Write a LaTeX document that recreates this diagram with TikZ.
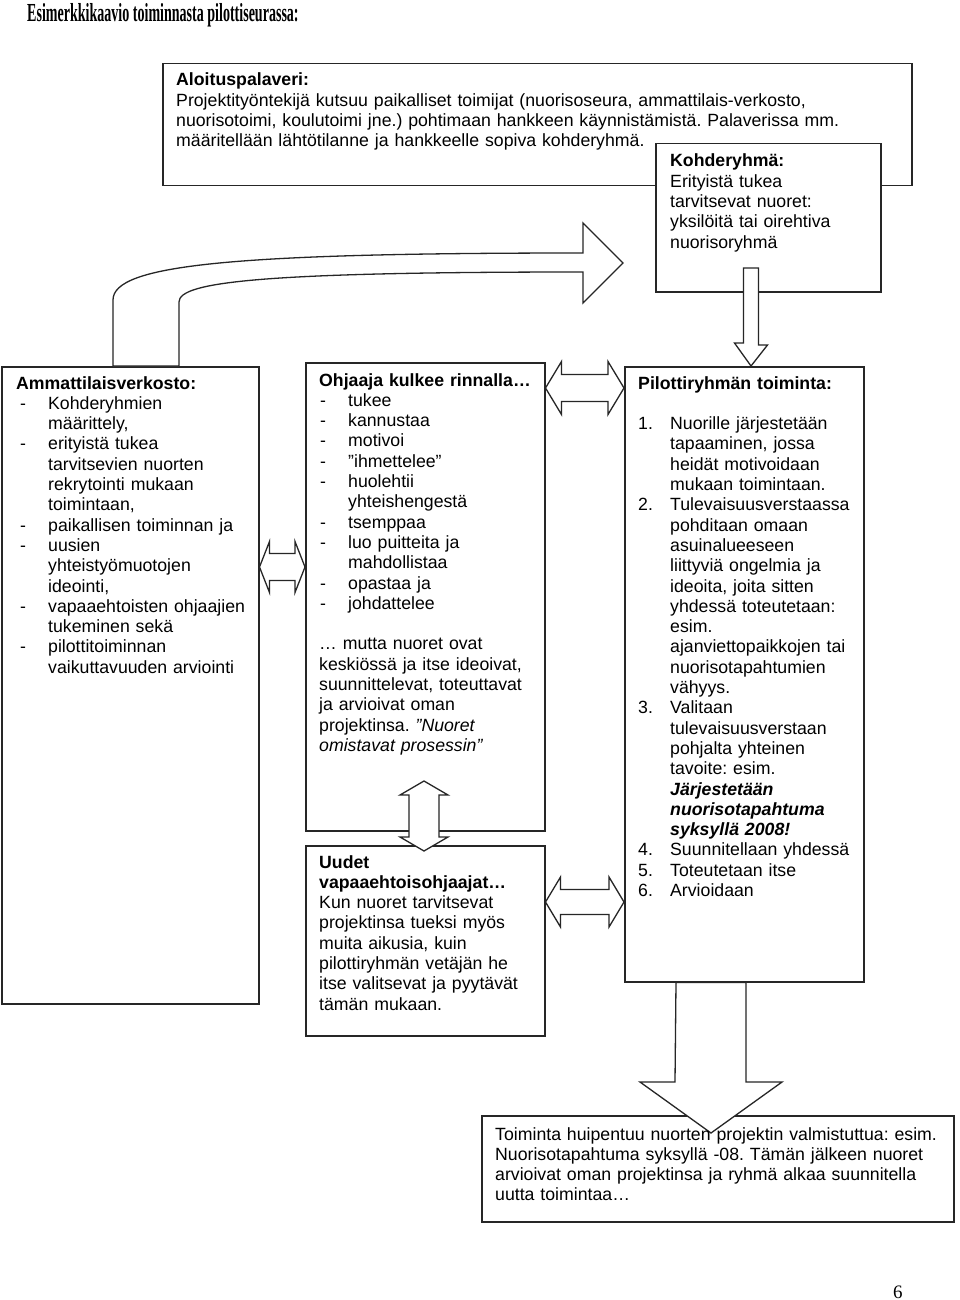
\documentclass[tikz,border=0pt]{standalone}
\usepackage{fontspec}
\usepackage{graphicx}
\usetikzlibrary{calc}
\newfontfamily\arialfont{Liberation Sans}
\newfontfamily\timesfont{Liberation Serif}
\newcommand\boxfont{\arialfont\fontsize{17.7}{20.3}\selectfont\frenchspacing}
\newcommand\dashln{\hspace*{4pt}\makebox[28pt][l]{-}}
\newcommand\contln{\hspace*{32pt}}
\newcommand\numln[1]{\makebox[32pt][l]{#1}}
\newcommand\dblh[5]{\draw[blockarrow] (#1) -- ++(#3,-#4) -- ++(0,#4-#5) -- ($(#2)+(-#3,-#5)$) -- ++(0,#5-#4) -- (#2) -- ++(-#3,#4) -- ++(0,#5-#4) -- ($(#1)+(#3,#5)$) -- ++(0,#4-#5) -- cycle;}
\newcommand\dblv[5]{\draw[blockarrow] (#1) -- ++(#4,#3) -- ++(#5-#4,0) -- ($(#2)+(#5,-#3)$) -- ++(#4-#5,0) -- (#2) -- ++(-#4,-#3) -- ++(#4-#5,0) -- ($(#1)+(-#5,#3)$) -- ++(#5-#4,0) -- cycle;}
\tikzset{
  box/.style={draw=black!85, line width=1.5pt, fill=white, anchor=north west, inner sep=0pt},
  txt/.style={anchor=base west, align=left, inner sep=0pt, text width=900pt, font=\boxfont},
  blockarrow/.style={draw=black!85, line width=1.3pt, fill=white, line join=miter},
}
\begin{document}
\begin{tikzpicture}[x=1pt,y=-1pt]
  \useasboundingbox[fill=white] (0,0) rectangle (960,1300);

  \node[anchor=base west, inner sep=0pt, font=\timesfont\fontsize{26}{30}\selectfont\bfseries] (otsikko) at (27,22) {\scalebox{0.54}[1]{Esimerkkikaavio toiminnasta pilottiseurassa:}};

  \node[box, minimum width=749pt, minimum height=122pt] (aloitus) at (162,63) {};
  \node[box, minimum width=225pt, minimum height=148pt] (kohde) at (655,143) {};
  \node[box, minimum width=257pt, minimum height=637pt] (ammatti) at (1,366) {};
  \node[box, minimum width=239pt, minimum height=468pt] (ohjaaja) at (305,362) {};
  \node[box, minimum width=239pt, minimum height=190pt] (uudet) at (305,845) {};
  \node[box, minimum width=239pt, minimum height=615pt] (pilotti) at (624,366) {};
  \node[box, minimum width=472pt, minimum height=106pt] (toiminta) at (481,1115) {};

  \coordinate (kaarikarki) at (623,263);
  \draw[blockarrow] (ammatti.north -| 113,0) -- (113,300) .. controls (113,265) and (230,253) .. (583,253) -- (583,223) -- (kaarikarki) -- (583,303) -- (583,272) .. controls (260,272) and (179,282) .. (179,302) -- (ammatti.north -| 179,0) -- cycle;

  \coordinate (ylakarki) at (pilotti.north -| 751,0);
  \draw[blockarrow] (ylakarki) -- ++(-16.5,-23) -- ++(9,0) -- (743.5,268) -- (758.5,268) -- (758.5,345) -- (767.5,345) -- cycle;

  \coordinate (alakarki) at (711,1133);
  \draw[blockarrow] (alakarki) -- ++(-71,-51) -- ++(35,0) -- (pilotti.south -| 676,0) -- (pilotti.south -| 746,0) -- (746,1082) -- (782,1082) -- cycle;

  \coordinate (a1) at (ammatti.east |- 0,567);
  \coordinate (o1) at (ohjaaja.west |- 0,567);
  \dblh{a1}{o1}{10}{25.5}{13.5}
  \coordinate (o2) at (ohjaaja.east |- 0,388);
  \coordinate (p2) at (pilotti.west |- 0,388);
  \dblh{o2}{p2}{16}{26.5}{13.5}
  \coordinate (u3) at (uudet.east |- 0,902);
  \coordinate (p3) at (pilotti.west |- 0,902);
  \dblh{u3}{p3}{15}{25}{12.5}
  \coordinate (o4) at (424,781);
  \coordinate (u4) at (424,851);
  \dblv{o4}{u4}{14}{24}{15}

  \node[txt] (aloitus-t) at (176,86) {\textbf{Aloituspalaveri:}\\
    Projektityöntekijä kutsuu paikalliset toimijat (nuorisoseura, ammattilais-verkosto,\\
    nuorisotoimi, koulutoimi jne.) pohtimaan hankkeen käynnistämistä. Palaverissa mm.\\
    määritellään lähtötilanne ja hankkeelle sopiva kohderyhmä.};
  \node[txt] (kohde-t) at (670,167) {\textbf{Kohderyhmä:}\\
    Erityistä tukea\\
    tarvitsevat nuoret:\\
    yksilöitä tai oirehtiva\\
    nuorisoryhmä};
  \node[txt] (ammatti-t) at (16,389) {\textbf{Ammattilaisverkosto:}\\
    \dashln Kohderyhmien\\
    \contln määrittely,\\
    \dashln erityistä tukea\\
    \contln tarvitsevien nuorten\\
    \contln rekrytointi mukaan\\
    \contln toimintaan,\\
    \dashln paikallisen toiminnan ja\\
    \dashln uusien\\
    \contln yhteistyömuotojen\\
    \contln ideointi,\\
    \dashln vapaaehtoisten ohjaajien\\
    \contln tukeminen sekä\\
    \dashln pilottitoiminnan\\
    \contln vaikuttavuuden arviointi};
  \node[txt] (ohjaaja-t) at (316,386) {\hspace*{3pt}\textbf{Ohjaaja kulkee rinnalla…}\\
    \dashln tukee\\
    \dashln kannustaa\\
    \dashln motivoi\\
    \dashln ”ihmettelee”\\
    \dashln huolehtii\\
    \contln yhteishengestä\\
    \dashln tsemppaa\\
    \dashln luo puitteita ja\\
    \contln mahdollistaa\\
    \dashln opastaa ja\\
    \dashln johdattelee\\[20.3pt]
    \hspace*{3pt}… mutta nuoret ovat\\
    \hspace*{3pt}keskiössä ja itse ideoivat,\\
    \hspace*{3pt}suunnittelevat, toteuttavat\\
    \hspace*{3pt}ja arvioivat oman\\
    \hspace*{3pt}projektinsa. \textit{”Nuoret}\\
    \hspace*{3pt}\textit{omistavat prosessin”}};
  \node[txt] (uudet-t) at (319,868) {\textbf{Uudet}\\
    \textbf{vapaaehtoisohjaajat…}\\
    Kun nuoret tarvitsevat\\
    projektinsa tueksi myös\\
    muita aikusia, kuin\\
    pilottiryhmän vetäjän he\\
    itse valitsevat ja pyytävät\\
    tämän mukaan.};
  \node[txt] (pilotti-t) at (638,389) {\textbf{Pilottiryhmän toiminta:}\\[20.3pt]
    \numln{1.}Nuorille järjestetään\\
    \contln tapaaminen, jossa\\
    \contln heidät motivoidaan\\
    \contln mukaan toimintaan.\\
    \numln{2.}Tulevaisuusverstaassa\\
    \contln pohditaan omaan\\
    \contln asuinalueeseen\\
    \contln liittyviä ongelmia ja\\
    \contln ideoita, joita sitten\\
    \contln yhdessä toteutetaan:\\
    \contln esim.\\
    \contln ajanviettopaikkojen tai\\
    \contln nuorisotapahtumien\\
    \contln vähyys.\\
    \numln{3.}Valitaan\\
    \contln tulevaisuusverstaan\\
    \contln pohjalta yhteinen\\
    \contln tavoite: esim.\\
    \contln \textbf{\textit{Järjestetään}}\\
    \contln \textbf{\textit{nuorisotapahtuma}}\\
    \contln \textbf{\textit{syksyllä 2008!}}\\
    \numln{4.}Suunnitellaan yhdessä\\
    \numln{5.}Toteutetaan itse\\
    \numln{6.}Arvioidaan};
  \node[txt] (toiminta-t) at (495,1140) {Toiminta huipentuu nuorten projektin valmistuttua: esim.\\
    Nuorisotapahtuma syksyllä -08. Tämän jälkeen nuoret\\
    arvioivat oman projektinsa ja ryhmä alkaa suunnitella\\
    uutta toimintaa…};

  \node[anchor=base west, inner sep=0pt, font=\timesfont\fontsize{19}{22}\selectfont] (sivu) at (893,1298) {6};
\end{tikzpicture}
\end{document}
